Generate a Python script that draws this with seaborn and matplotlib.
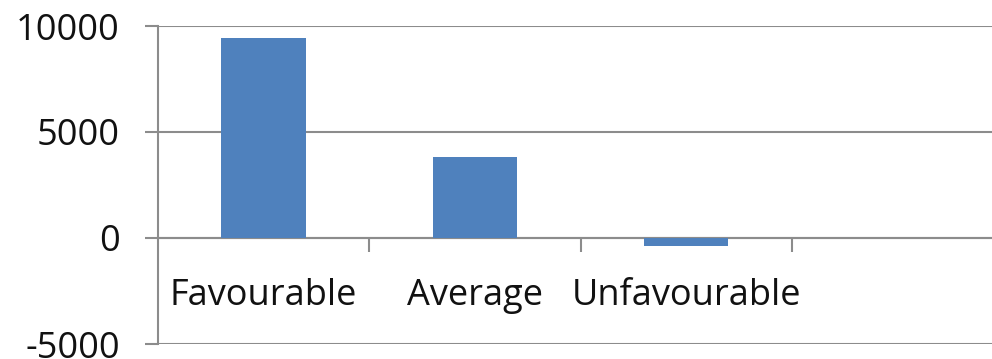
import matplotlib
matplotlib.use("Agg")
import matplotlib.pyplot as plt
import seaborn as sns
import pandas as pd

categories = ["Favourable", "Average", "Unfavourable"]
values = [9450, 3800, -380]
y_ticks = [-5000, 0, 5000, 10000]

sns.set_style("white")
plt.rcParams['font.family'] = ['Open Sans', 'DejaVu Sans']

df = pd.DataFrame({"cat": categories, "val": values})

fig = plt.figure(figsize=(9.92, 3.59), dpi=100)
ax = fig.add_axes([158/992, 1 - 344/359, (1003 - 158)/992, (344 - 26)/359])

sns.barplot(data=df, x="cat", y="val", color="#4F81BD", width=0.4,
            saturation=1, linewidth=0, ax=ax, zorder=3)

grid_c = "#8C8C8C"
lw = 1.5
ax.set_xlim(-0.5, 3.5)
ax.set_ylim(-5000, 10000)
ax.set_yticks(y_ticks)
ax.set_yticklabels([str(v) for v in y_ticks], fontsize=26, color="#111111")
for v in y_ticks:
    ax.axhline(v, color=grid_c, lw=lw, zorder=1)

for s in ["top", "right"]:
    ax.spines[s].set_visible(False)
ax.spines["left"].set_color(grid_c)
ax.spines["left"].set_linewidth(lw)
ax.spines["bottom"].set_position(("data", 0))
ax.spines["bottom"].set_color(grid_c)
ax.spines["bottom"].set_linewidth(lw)
ax.tick_params(axis="y", direction="out", length=9.4, width=lw, color=grid_c, pad=18, left=True)

ax.set_xticks([0.5, 1.5, 2.5, 3.5])
ax.set_xticklabels([])
ax.set_xticks([0, 1, 2], minor=True)
ax.set_xticklabels(categories, minor=True, fontsize=26, color="#111111")
ax.tick_params(axis="x", which="major", direction="out", length=10, width=lw, color=grid_c, bottom=True)
ax.tick_params(axis="x", which="minor", length=0, pad=29)
ax.set_xlabel("")
ax.set_ylabel("")

fig.savefig("out.png", dpi=100)
